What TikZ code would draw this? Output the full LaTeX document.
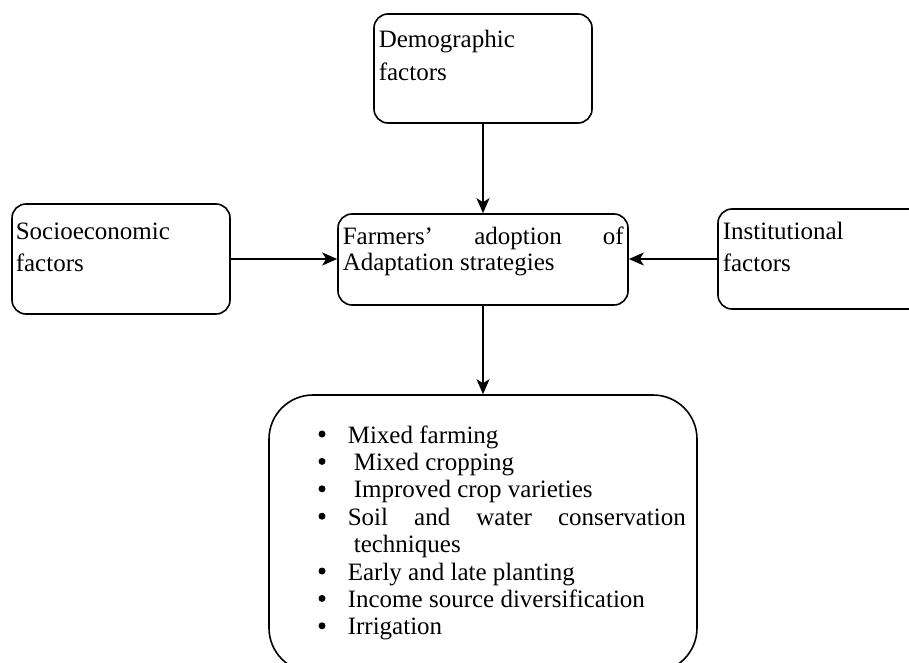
\documentclass[tikz,border=0pt]{standalone}
\usepackage{fontspec}
\setmainfont{Liberation Serif}
\usetikzlibrary{arrows.meta}
\begin{document}
\begin{tikzpicture}[x=1pt,y=-1pt,line width=1.6pt,
  box/.style={draw, rounded corners=14pt, inner sep=0pt},
  lbl/.style={anchor=base west, inner sep=0pt, font=\fontsize{25}{30}\selectfont},
  dot/.style={circle, fill, inner sep=0pt, minimum size=7pt},
  arr/.style={-{Stealth[length=15pt,width=13pt,inset=4pt]}}]
\useasboundingbox (0,0) rectangle (909,663);
\clip (0,0) rectangle (909,663);
% boxes
\node[box, minimum width=218pt, minimum height=109pt] (demo) at (483,68.5) {};
\node[box, minimum width=218pt, minimum height=110pt] (socio) at (121,259) {};
\node[box, minimum width=290pt, minimum height=91pt] (central) at (483,259.5) {};
\node[box, minimum width=212pt, minimum height=100pt] (inst) at (824,259) {};
\node[box, rounded corners=44pt, minimum width=428pt, minimum height=277pt] (list) at (483,533.5) {};
% arrows
\draw[arr] (demo.south) -- (central.north);
\draw[arr] (socio.east) -- (socio.east -| central.west);
\draw[arr] (inst.west) -- (inst.west -| central.east);
\draw[arr] (central.south) -- (list.north);
% labels
\node[lbl] (d1) at (378,48) {Demographic};
\node[lbl] (d2) at (378,81) {factors};
\node[lbl] (s1) at (15,239) {Socioeconomic};
\node[lbl] (s2) at (15,271) {factors};
\node[lbl] (i1) at (722,239) {Institutional};
\node[lbl] (i2) at (722,271) {factors};
\node[lbl] (c1) at (342,244) {\makebox[281pt][s]{Farmers’ adoption of}};
\node[lbl] (c2) at (342,270) {Adaptation strategies};
% list
\node[dot] (b1) at (322,434) {};
\node[lbl] (t1) at (347,443) {Mixed farming};
\node[dot] (b2) at (322,461.4) {};
\node[lbl] (t2) at (353,470.4) {Mixed cropping};
\node[dot] (b3) at (322,488.8) {};
\node[lbl] (t3) at (353,497.8) {Improved crop varieties};
\node[dot] (b4) at (322,516.2) {};
\node[lbl] (t4) at (347,525.2) {\makebox[338pt][s]{Soil and water conservation}};
\node[lbl] (t4b) at (353,552.6) {techniques};
\node[dot] (b5) at (322,571) {};
\node[lbl] (t5) at (347,580) {Early and late planting};
\node[dot] (b6) at (322,598.4) {};
\node[lbl] (t6) at (347,607.4) {Income source diversification};
\node[dot] (b7) at (322,625.8) {};
\node[lbl] (t7) at (347,634.8) {Irrigation};
\end{tikzpicture}
\end{document}
